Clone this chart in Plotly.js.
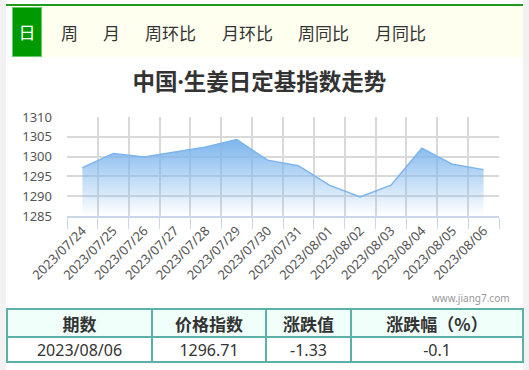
<!DOCTYPE html>
<html>
<head>
<meta charset="utf-8">
<script src="https://cdn.plot.ly/plotly-3.0.1.min.js"></script>
<style>
  html, body { margin: 0; padding: 0; }
  body { width: 529px; height: 370px; background: #f2f2f2; position: relative; overflow: hidden;
         font-family: "Noto Sans CJK SC", "Noto Sans", sans-serif; }
  #wrap { position: absolute; left: 6px; top: 0; width: 517px; height: 370px; background: #fff; }
  #topline { position: absolute; left: 6px; top: 4px; width: 517px; height: 2px; background: #1f9a1f; }
  #tabbar { position: absolute; left: 12px; top: 6px; width: 511px; height: 51px; background: #fffff0; }
  .tab { position: absolute; top: 21px; font-size: 17px; line-height: 24px; color: #333; white-space: nowrap; }
  #tabsel { position: absolute; left: 12px; top: 7px; width: 28px; height: 48px; background: #009900;
            border: 1px solid #66cc66; color: #fff; font-size: 17px; line-height: 48px; text-align: center; }
  #chart { position: absolute; left: 6px; top: 57px; width: 517px; height: 250px; }
  table { position: absolute; left: 6px; top: 308px; width: 516px; border-collapse: collapse; table-layout: fixed; }
  td, th { border: 2px solid #5cb0a8; text-align: center; color: #333; padding: 0; }
  th { height: 26px; background: #f0fffa; font-size: 17px; font-weight: bold; }
  td { height: 23px; font-size: 16px; font-family: "Noto Sans", "Noto Sans CJK SC", sans-serif; }
</style>
</head>
<body>
<div id="wrap"></div>
<div id="topline"></div>
<div id="tabbar"></div>
<div id="tabs"></div>
<div id="chart"></div>
<table id="tbl"></table>
<script>
// ---- data ----
const tabLabels = ["日", "周", "月", "周环比", "月环比", "周同比", "月同比"];
const dates = ["2023/07/24","2023/07/25","2023/07/26","2023/07/27","2023/07/28","2023/07/29","2023/07/30",
               "2023/07/31","2023/08/01","2023/08/02","2023/08/03","2023/08/04","2023/08/05","2023/08/06"];
const indexValues = [1297.2, 1300.8, 1299.9, 1301.1, 1302.4, 1304.3, 1299.1,
                     1297.7, 1292.8, 1289.8, 1292.8, 1302.1, 1298.04, 1296.71];
const yTicks = [1285, 1290, 1295, 1300, 1305, 1310];
const tableHeaders = ["期数", "价格指数", "涨跌值", "涨跌幅（%）"];
const tableRow = ["2023/08/06", "1296.71", "-1.33", "-0.1"];
const chartTitle = "中国·生姜日定基指数走势";
const watermark = "www.jiang7.com";

// ---- tabs ----
const tabLeft = [null, 61, 103, 145, 222, 298, 375];
const tabsDiv = document.getElementById('tabs');
tabLabels.forEach((t, i) => {
  const el = document.createElement('div');
  if (i === 0) { el.id = 'tabsel'; }
  else { el.className = 'tab'; el.style.left = tabLeft[i] + 'px'; }
  el.textContent = t;
  tabsDiv.appendChild(el);
});

// ---- table ----
const tbl = document.getElementById('tbl');
const colW = [145, 114, 85, 172];
const cg = document.createElement('colgroup');
colW.forEach(w => { const c = document.createElement('col'); c.style.width = w + 'px'; cg.appendChild(c); });
tbl.appendChild(cg);
const hr = document.createElement('tr');
tableHeaders.forEach(h => { const th = document.createElement('th'); th.textContent = h; hr.appendChild(th); });
tbl.appendChild(hr);
const dr = document.createElement('tr');
tableRow.forEach(v => { const td = document.createElement('td'); td.textContent = v; dr.appendChild(td); });
tbl.appendChild(dr);

// ---- chart ----
const lineBlue = '#7cb5ec';
const trace = {
  type: 'scatter', mode: 'lines',
  x: dates, y: indexValues,
  line: { color: lineBlue, width: 1.5 },
  fill: 'tozeroy',
  fillgradient: {
    type: 'vertical',
    start: yTicks[0],
    stop: Math.max(...indexValues),
    colorscale: [[0, 'rgba(124,181,236,0)'], [1, 'rgba(124,181,236,1)']]
  },
  hoverinfo: 'skip'
};
const layout = {
  width: 517, height: 250,
  margin: { l: 61, r: 24, t: 60, b: 91 },
  paper_bgcolor: '#fff', plot_bgcolor: '#fff',
  showlegend: false,
  title: {
    text: chartTitle, x: 0.49, xanchor: 'center', xref: 'container',
    y: 0.9, yanchor: 'middle', yref: 'container',
    font: { family: '"Noto Sans", "Noto Sans CJK SC", sans-serif', size: 22.5, color: '#333', weight: 'bold' }
  },
  xaxis: {
    type: 'category', range: [-0.5, dates.length - 0.5],
    tickson: 'boundaries', ticks: 'outside', ticklen: 11, tickcolor: '#ccd6eb', tickwidth: 1,
    showgrid: true, gridcolor: '#d9d9d9', gridwidth: 2,
    showline: true, linecolor: '#ccd6eb', linewidth: 2,
    tickangle: -45, tickfont: { family: '"Noto Sans", sans-serif', size: 13, color: '#555' },
    fixedrange: true
  },
  yaxis: {
    range: [yTicks[0], yTicks[yTicks.length - 1]],
    tickvals: yTicks, ticktext: yTicks.map(String),
    showgrid: true, gridcolor: '#d9d9d9', gridwidth: 2, zeroline: false,
    showline: false, ticks: '', ticklabelstandoff: 14,
    tickfont: { family: '"Noto Sans", sans-serif', size: 13, color: '#555' },
    fixedrange: true
  },
  annotations: [{
    text: watermark, xref: 'paper', yref: 'paper', x: 1.031, y: -0.83,
    xanchor: 'right', yanchor: 'middle', showarrow: false,
    font: { family: '"Noto Sans", sans-serif', size: 10, color: '#999' }
  }]
};
Plotly.newPlot('chart', [trace], layout, { displayModeBar: false, staticPlot: true });
</script>
</body>
</html>
